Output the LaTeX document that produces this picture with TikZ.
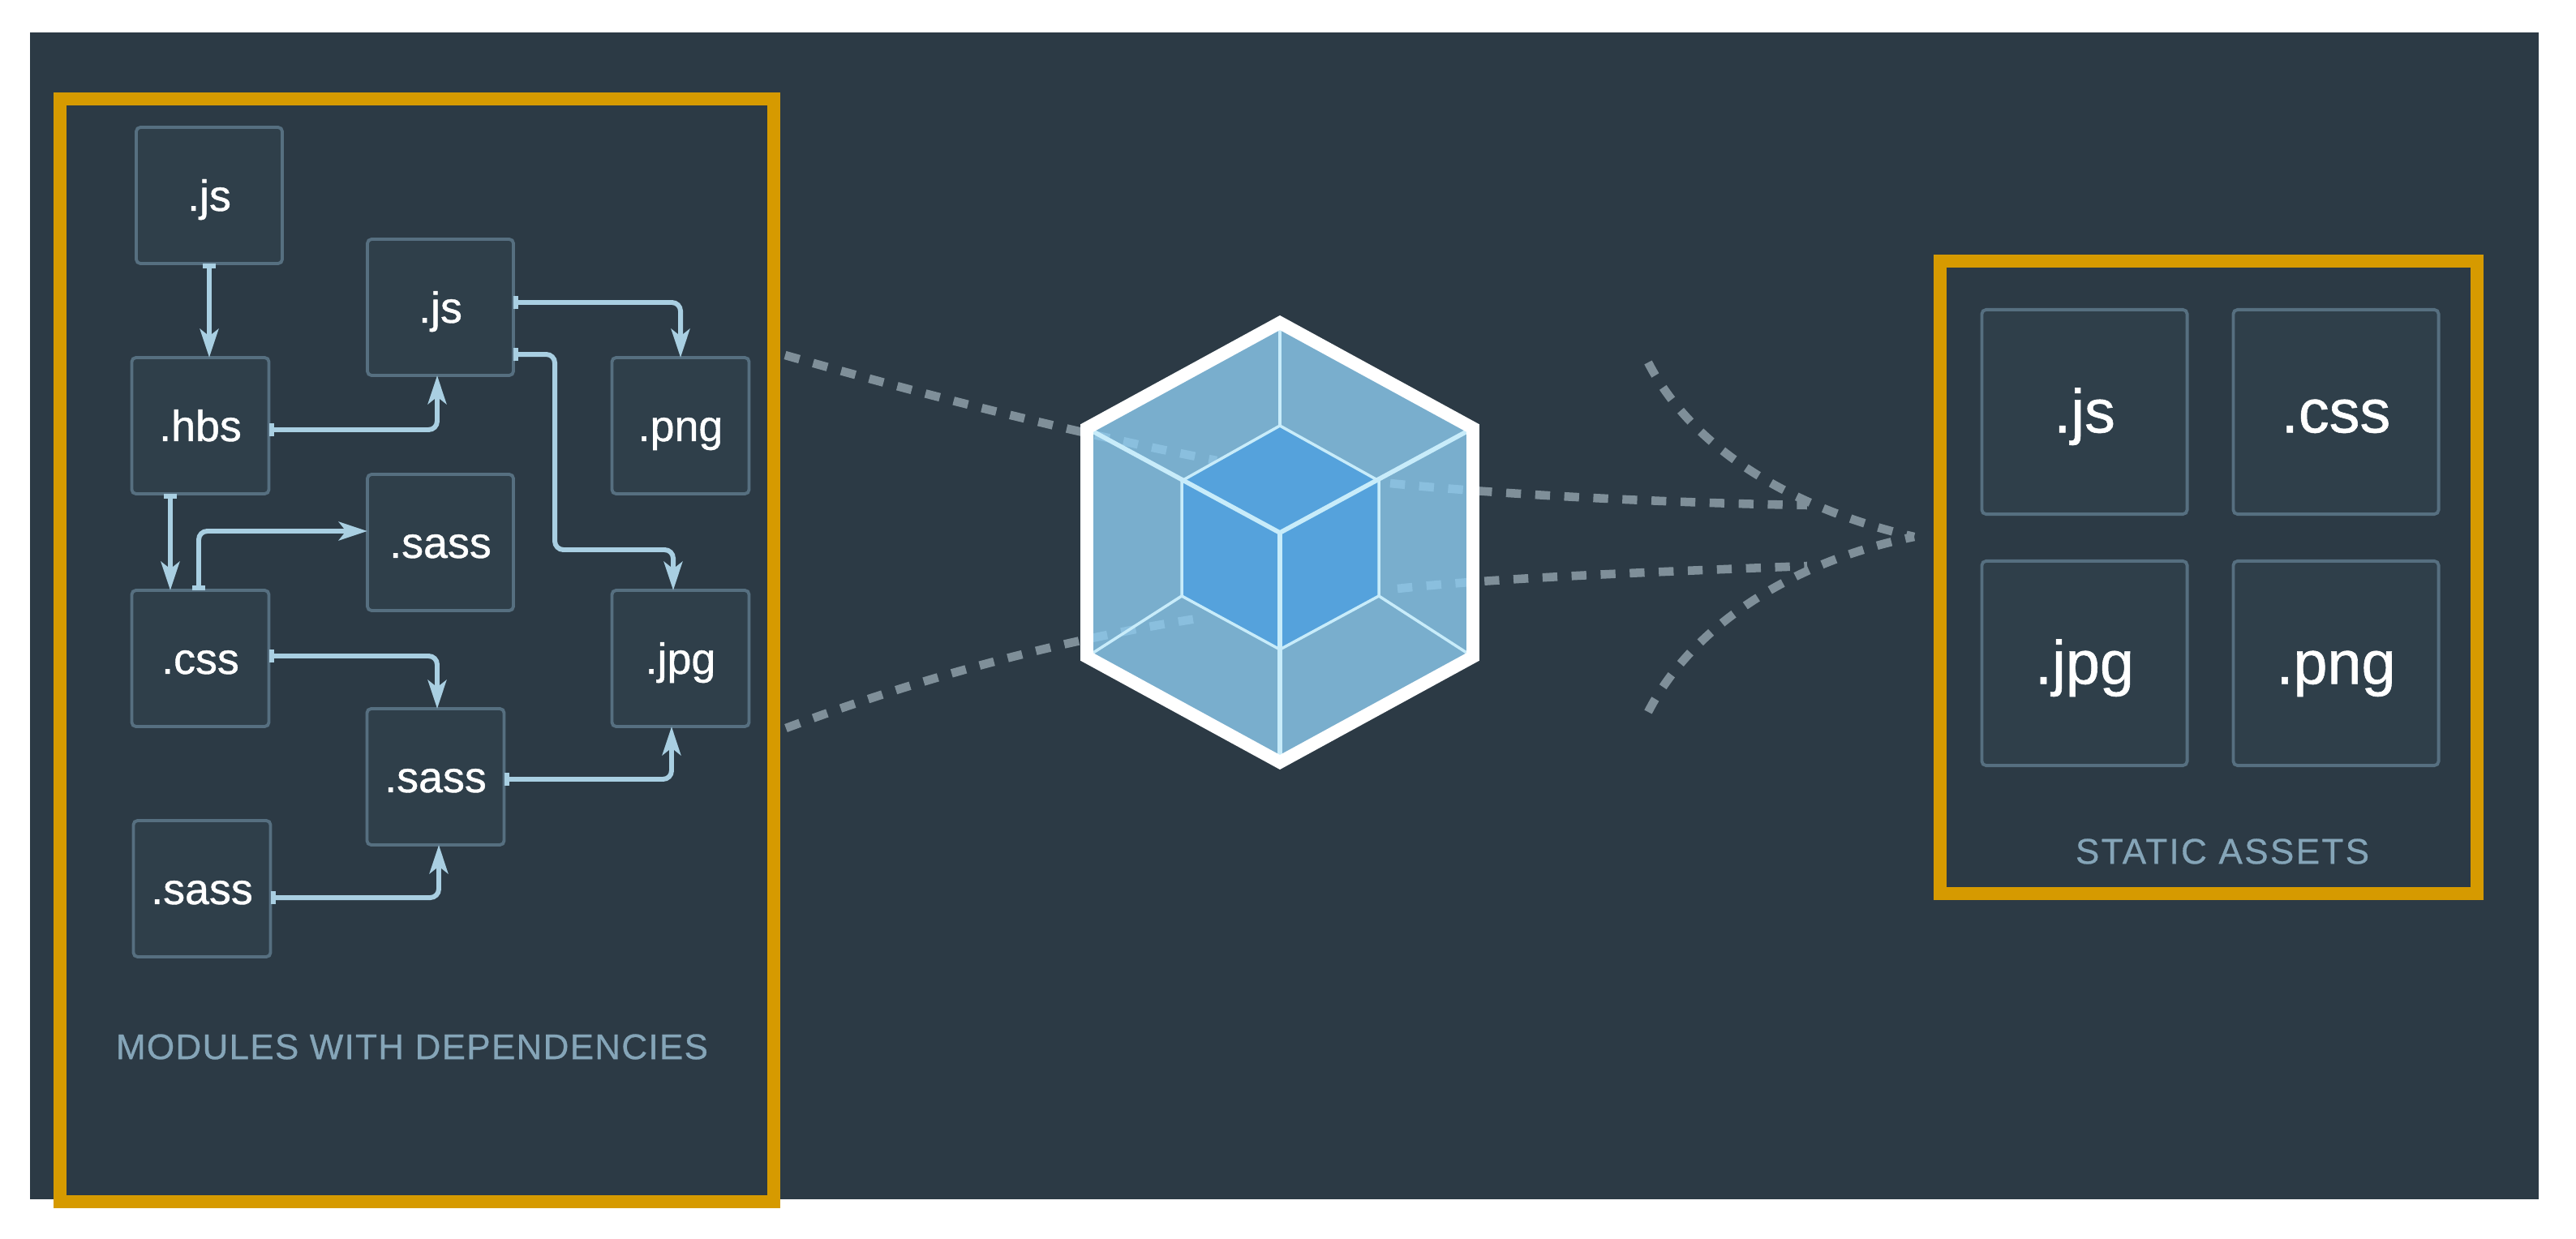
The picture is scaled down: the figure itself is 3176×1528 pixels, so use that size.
\documentclass[tikz,border=0pt]{standalone}
\usepackage{fontspec}
\setmainfont{Liberation Sans}
\newfontfamily\labelfont[FakeBold=0.8]{Liberation Sans}
\newfontfamily\capsfont[LetterSpace=3,FakeBold=0.7]{Liberation Sans}
\newfontfamily\capswidefont[LetterSpace=5.5,FakeBold=0.7]{Liberation Sans}
\usetikzlibrary{arrows.meta}

\definecolor{panelbg}{HTML}{2C3A45}
\definecolor{boxbg}{HTML}{2F3F4A}
\definecolor{boxline}{HTML}{566F80}
\definecolor{goldline}{HTML}{D69A00}
\definecolor{depline}{HTML}{A9CFE2}
\definecolor{capline}{HTML}{85A5B8}
\definecolor{dashline}{HTML}{7F8F99}
\definecolor{faceblue}{HTML}{8DCCF0}
\definecolor{coreblue}{HTML}{55A2DC}
\definecolor{edgeline}{HTML}{C8ECFA}

\begin{document}
\begin{tikzpicture}
        [
            x=0.01cm,
            y=-0.01cm,
            smallbox/.style={
                draw=boxline,
                fill=boxbg,
                line width=1.1pt,
                rounded corners=1.5pt,
                outer sep=0pt,
                text=white,
                inner sep=0pt,
                minimum width=1.69cm,
                minimum height=1.68cm,
                text height=14.8pt,
                text depth=4pt,
                font=\labelfont\fontsize{15.3}{18}\selectfont
            },
            bigbox/.style={
                smallbox,
                minimum width=2.53cm,
                minimum height=2.52cm,
                text height=20.4pt,
                text depth=6pt,
                font=\labelfont\fontsize{21.5}{25}\selectfont
            },
            goldbox/.style={
                draw=goldline,
                line width=4.5pt,
                line join=miter
            },
            caption/.style={
                text=capline,
                font=\capsfont\fontsize{12.5}{15}\selectfont
            },
            dep/.style={
                draw=depline,
                line width=1.7pt,
                rounded corners=3pt,
                {Bar[width=4.5pt,length=1.2pt]}-{Stealth[length=10pt,width=6.5pt,inset=2.5pt]}
            },
            flow/.style={
                draw=dashline,
                line width=3pt,
                dash pattern=on 5.2pt off 5pt
            },
            thinedge/.style={
                draw=edgeline,
                line width=1pt
            },
            thickedge/.style={
                draw=edgeline,
                line width=1.6pt
            }
         ]
        \useasboundingbox (0,0) rectangle (3176,1528);
        \fill[white] (0,0) rectangle (3176,1528);
        \fill[panelbg] (37,40) rectangle (3130,1479);

        \node[smallbox, minimum width=1.8cm] (jsa) at (258,241) {.js};
        \node[smallbox] (hbs) at (247,525) {.hbs};
        \node[smallbox, minimum width=1.8cm] (jsb) at (543,379) {.js};
        \node[smallbox] (pnga) at (839,525) {.png};
        \node[smallbox, minimum width=1.8cm] (sassa) at (543,669) {.sass};
        \node[smallbox] (cssa) at (247,812) {.css};
        \node[smallbox] (jpga) at (839,812) {.jpg};
        \node[smallbox] (sassb) at (537,958) {.sass};
        \node[smallbox] (sassc) at (249,1096) {.sass};

        \draw[dep] (jsa.south) -- (hbs.north -| jsa.south);
        \draw[dep] ([yshift=-0.05cm]hbs.east) -| ([xshift=-0.04cm]jsb.south);
        \draw[dep] ([yshift=0.06cm]jsb.east) -| (pnga.north);
        \draw[dep] ([yshift=-0.58cm]jsb.east) -- ++(51,0) |- (830,678) -- ([xshift=-0.09cm]jpga.north);
        \draw[dep] ([xshift=-0.37cm]hbs.south) -- ([xshift=-0.37cm]cssa.north);
        \draw[dep] ([xshift=-0.02cm]cssa.north) |- (sassa.west |- 0,655);
        \draw[dep] ([yshift=0.03cm]cssa.east) -| ([xshift=0.02cm]sassb.north);
        \draw[dep] ([yshift=-0.03cm]sassb.east) -| ([xshift=-0.11cm]jpga.south);
        \draw[dep] ([yshift=-0.11cm]sassc.east) -| ([xshift=0.04cm]sassb.south);

        \node[caption] (modcap) at (508,1291) {MODULES WITH DEPENDENCIES};

        \node[bigbox] (jsc) at (2570,508) {.js};
        \node[bigbox] (cssb) at (2880,508) {.css};
        \node[bigbox] (jpgb) at (2570,818) {.jpg};
        \node[bigbox] (pngb) at (2880,818) {.png};
        \node[caption, font=\capswidefont\fontsize{12.5}{15}\selectfont] (statcap) at (2740,1050) {STATIC ASSETS};

        \coordinate (tip) at (2360,662);
        \coordinate (ina) at (968,438);
        \coordinate (inb) at (969,898);
        \coordinate (ena) at (1500,568);
        \coordinate (enb) at (1482,762);
        \coordinate (outa) at (1714,596);
        \coordinate (outb) at (1723,726);
        \coordinate (joina) at (2228,623);
        \coordinate (joinb) at (2228,698);
        \coordinate (cura) at (2032,447);
        \coordinate (curb) at (2032,878);

        \draw[flow] (ina) .. controls (1150,490) and (1330,535) .. (ena);
        \draw[flow] (inb) .. controls (1150,830) and (1330,785) .. (enb);
        \draw[flow] (outa) .. controls (1850,610) and (2050,620) .. (joina);
        \draw[flow] (outb) .. controls (1850,712) and (2050,705) .. (joinb);
        \draw[flow] (cura) .. controls (2090,560) and (2220,630) .. (tip);
        \draw[flow] (curb) .. controls (2090,765) and (2220,690) .. (tip);

        \coordinate (hexn) at (1578,398);
        \coordinate (hexne) at (1816,528);
        \coordinate (hexse) at (1816,810);
        \coordinate (hexs) at (1578,940);
        \coordinate (hexsw) at (1340,810);
        \coordinate (hexnw) at (1340,528);
        \coordinate (coren) at (1578,525);
        \coordinate (corene) at (1700,593);
        \coordinate (corese) at (1700,735);
        \coordinate (cores) at (1578,801);
        \coordinate (coresw) at (1457,735);
        \coordinate (corenw) at (1457,593);
        \coordinate (corec) at (1578,657);

        \fill[faceblue, fill opacity=0.8] (hexn) -- (hexne) -- (hexse) -- (hexs) -- (hexsw) -- (hexnw) -- cycle;
        \draw[thinedge, fill=coreblue] (coren) -- (corene) -- (corese) -- (cores) -- (coresw) -- (corenw) -- cycle;
        \draw[thinedge] (hexn) -- (coren);
        \draw[thinedge] (hexsw) -- (coresw);
        \draw[thinedge] (hexse) -- (corese);
        \draw[thickedge] (hexnw) -- (corec) -- (hexne);
        \draw[thickedge] (corec) -- (hexs);
        \draw[draw=white, line width=4.5pt, line join=miter] (hexn) -- (hexne) -- (hexse) -- (hexs) -- (hexsw) -- (hexnw) -- cycle;

        \draw[goldbox] (74,122) rectangle (954,1482);
        \draw[goldbox] (2392,322) rectangle (3054,1102);
    \end{tikzpicture}
\end{document}
